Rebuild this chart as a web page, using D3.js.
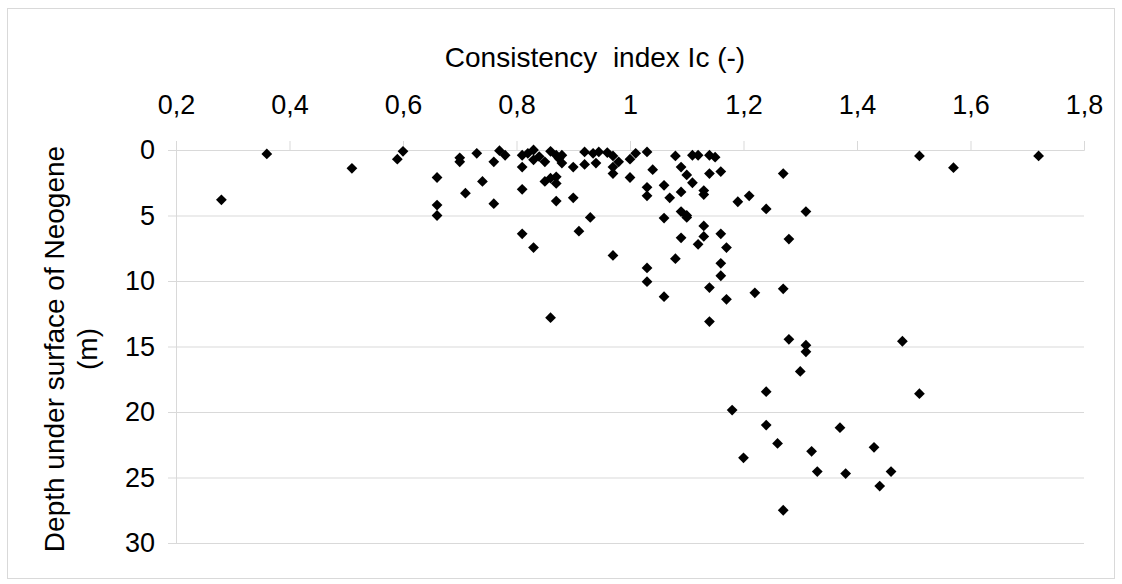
<!DOCTYPE html>
<html><head><meta charset="utf-8">
<script src="https://cdn.jsdelivr.net/npm/d3@7"></script>
<style>body{margin:0;background:#fff}svg{display:block}text{font-family:"Liberation Sans",Arial,sans-serif;fill:#000;white-space:pre}</style>
</head><body><svg id="c" width="1122" height="584"></svg>
<script>
const xTicks = [0.2,0.4,0.6,0.8,1.0,1.2,1.4,1.6,1.8];
const yTicks = [0,5,10,15,20,25,30];
const xTitle = "Consistency  index Ic (-)";
const yTitle = ["Depth under surface of Neogene","(m)"];
const consistency = [0.28,0.36,0.51,0.59,0.60,0.66,0.66,0.66,0.70,0.70,0.71,0.73,0.77,0.78,0.76,0.74,0.76,0.81,0.83,0.82,0.81,0.83,0.84,0.85,0.86,0.87,0.88,0.88,0.90,0.81,0.85,0.86,0.87,0.87,0.87,0.90,0.92,0.935,0.945,0.92,0.94,0.96,0.97,0.98,0.97,0.97,1.00,1.01,1.03,1.00,1.04,1.03,1.03,1.06,1.07,1.09,1.08,1.09,1.10,1.11,1.13,1.13,1.11,1.12,1.14,1.15,1.14,1.16,1.27,1.19,1.21,1.24,1.31,0.93,0.91,0.81,0.83,0.97,1.06,1.09,1.10,1.10,1.13,1.09,1.13,1.12,1.16,1.17,1.28,1.08,1.16,1.16,1.03,1.03,1.14,1.06,1.17,1.22,1.27,1.51,1.57,1.72,0.86,1.14,1.28,1.31,1.31,1.48,1.30,1.24,1.51,1.18,1.24,1.37,1.26,1.32,1.43,1.20,1.33,1.38,1.46,1.44,1.27,0.875];
const depth = [3.8,0.3,1.4,0.7,0.1,2.1,4.2,5.0,0.6,0.9,3.3,0.25,0.05,0.4,0.9,2.4,4.1,0.4,0.0,0.25,1.3,0.75,0.5,0.9,0.1,0.4,0.4,1.0,1.3,3.0,2.4,2.15,2.05,2.55,3.9,3.65,0.15,0.25,0.15,1.1,1.0,0.2,0.45,0.9,1.8,1.3,0.7,0.25,0.15,2.1,1.5,2.85,3.5,2.7,3.65,3.2,0.45,1.3,1.9,2.5,3.1,3.4,0.4,0.4,0.4,0.55,1.8,1.65,1.8,3.95,3.5,4.5,4.7,5.15,6.2,6.4,7.45,8.05,5.2,4.7,5.0,5.15,5.8,6.7,6.6,7.2,6.4,7.45,6.8,8.3,8.65,9.6,9.0,10.05,10.5,11.2,11.4,10.9,10.6,0.45,1.35,0.45,12.8,13.1,14.45,14.9,15.4,14.6,16.9,18.45,18.6,19.85,21.0,21.2,22.4,23.0,22.7,23.5,24.55,24.7,24.55,25.65,27.5,0.65];

const svg = d3.select("#c");
const L = 176, R = 1084, T = 150, B = 543;
const FS = 27, TS = 28;
const x = d3.scaleLinear().domain([0.2,1.8]).range([L,R]);
const y = d3.scaleLinear().domain([0,30]).range([T,B]);
const fmt = d => String(+d.toFixed(1)).replace(".", ",");

svg.append("rect").attr("x",7.5).attr("y",8.5).attr("width",1107).attr("height",570)
  .attr("fill","#fff").attr("stroke","#d9d9d9");

const gy = svg.append("g").attr("transform",`translate(${L},0)`)
  .call(d3.axisLeft(y).tickValues(yTicks).tickSize(8).tickPadding(13).tickFormat(d3.format("d")));
gy.select(".domain").attr("stroke","#d9d9d9");
gy.selectAll(".tick line").attr("stroke","#d9d9d9");
gy.selectAll(".tick").append("line").attr("x1",0).attr("x2",R-L).attr("stroke","#d9d9d9");
gy.selectAll(".tick text").attr("font-size",FS).style("font-family","Liberation Sans, Arial, sans-serif").attr("fill","#000");

const gx = svg.append("g").attr("transform",`translate(0,${T})`)
  .call(d3.axisTop(x).tickValues(xTicks).tickSize(9).tickPadding(27).tickFormat(fmt));
gx.select(".domain").attr("stroke","#d9d9d9");
gx.selectAll(".tick line").attr("stroke","#d9d9d9");
gx.selectAll(".tick text").attr("font-size",FS).style("font-family","Liberation Sans, Arial, sans-serif").attr("fill","#000");

svg.append("text").attr("x",595).attr("y",67).attr("text-anchor","middle").attr("font-size",TS).text(xTitle);
const yt = svg.append("text").attr("transform","translate(64,349) rotate(-90)").attr("text-anchor","middle").attr("font-size",TS);
yt.append("tspan").attr("x",0).attr("y",0).text(yTitle[0]);
yt.append("tspan").attr("x",0).attr("y",33).text(yTitle[1]);

const sym = d3.symbol().type(d3.symbolSquare).size(58);
svg.append("g").selectAll("path").data(consistency.map((c,i)=>[c,depth[i]])).join("path")
  .attr("d", sym)
  .attr("transform", d => `translate(${x(d[0])},${y(d[1])}) rotate(45)`)
  .attr("fill","#000");
</script></body></html>
